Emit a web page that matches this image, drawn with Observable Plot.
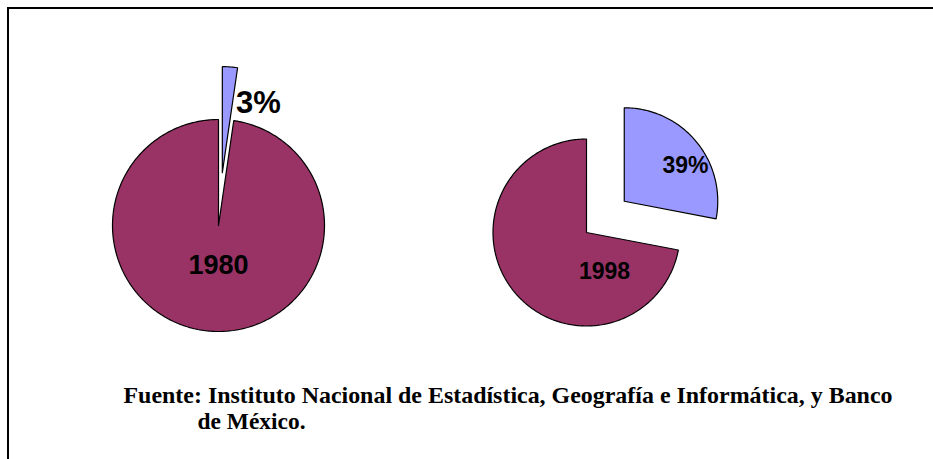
<!DOCTYPE html>
<html>
<head>
<meta charset="utf-8">
<script src="https://cdn.jsdelivr.net/npm/d3@7"></script>
<script src="https://cdn.jsdelivr.net/npm/@observablehq/plot@0.6"></script>
<style>
  html, body { margin: 0; padding: 0; background: #fff; }
  #wrap { position: relative; width: 933px; height: 459px; overflow: hidden; }
  #frame { position: absolute; left: 7px; top: 7px; width: 940px; height: 470px;
           border-top: 2px solid #000; border-left: 2px solid #000; box-sizing: border-box; }
  #chart { position: absolute; left: 0; top: 0; }
</style>
</head>
<body>
<div id="wrap"><div id="frame"></div><div id="chart"></div></div>
<script>
// ---- data ----
const years = ["1980", "1998"];
const shareLabels = ["3%", "39%"];          // labels printed on the exploded slices
const drawnShares = [2.3, 28];              // share (%) of the exploded slice as drawn
const captionLines = [
  "Fuente: Instituto Nacional de Estadística, Geografía e Informática, y Banco",
  "de México."
];

// ---- layout (positions / sizes), kept apart from the data ----
const layout = [
  {cx: 218, cy: 225, r: 106, explode: 53, yearPos: [218, 273, 27], sharePos: [258, 112, 31]},
  {cx: 586, cy: 232, r: 93.5, explode: 49, yearPos: [604, 278, 23], sharePos: [685, 172, 23]}
];
const colors = {big: "#993366", small: "#9999ff"};
const capSize = 23.5;

// build wedge polygons from the shares
const wedges = [];
const texts = [];
years.forEach((year, i) => {
  const L = layout[i];
  const a = drawnShares[i] / 100 * 2 * Math.PI;
  const slices = [
    {key: "small", a0: 0, a1: a, off: L.explode},
    {key: "big", a0: a, a1: 2 * Math.PI, off: 0}
  ];
  slices.forEach(s => {
    const mid = (s.a0 + s.a1) / 2;
    const ox = L.cx + s.off * Math.sin(mid);
    const oy = L.cy - s.off * Math.cos(mid);
    const id = year + "-" + s.key;
    wedges.push({id, key: s.key, x: ox, y: oy});
    const n = Math.max(4, Math.ceil((s.a1 - s.a0) / (Math.PI / 180)));
    for (let k = 0; k <= n; k++) {
      const t = s.a0 + (s.a1 - s.a0) * k / n;
      wedges.push({id, key: s.key, x: ox + L.r * Math.sin(t), y: oy - L.r * Math.cos(t)});
    }
    wedges.push({id, key: s.key, x: ox, y: oy});
  });
  texts.push({text: year, x: L.yearPos[0], y: L.yearPos[1] - 0.32 * L.yearPos[2], fs: L.yearPos[2]});
  texts.push({text: shareLabels[i], x: L.sharePos[0], y: L.sharePos[1] - 0.32 * L.sharePos[2], fs: L.sharePos[2]});
});

const captions = [
  {text: captionLines[0], x: 123, y: 402 - 0.32 * capSize},
  {text: captionLines[1], x: 197, y: 428 - 0.32 * capSize}
];

const textMarks = [...new Set(texts.map(d => d.fs))].map(fs =>
  Plot.text(texts.filter(d => d.fs === fs), {
    x: "x", y: "y", text: "text", fontSize: fs, fontWeight: "bold",
    fontFamily: "Liberation Sans, Arial, sans-serif", fill: "#000"
  })
);

const plot = Plot.plot({
  width: 933, height: 459,
  margin: 0,
  x: {domain: [0, 933], range: [0, 933], axis: null},
  y: {domain: [0, 459], range: [0, 459], axis: null},
  style: {background: "transparent", overflow: "visible"},
  marks: [
    Plot.line(wedges, {
      x: "x", y: "y", z: "id",
      fill: d => colors[d.key], stroke: "#000", strokeWidth: 1.2,
      strokeLinejoin: "miter", curve: "linear"
    }),
    ...textMarks,
    Plot.text(captions, {
      x: "x", y: "y", text: "text", textAnchor: "start", fontSize: capSize,
      fontWeight: "bold", fontFamily: "Liberation Serif, Times New Roman, serif", fill: "#000",
      className: "caption"
    })
  ]
});
document.getElementById("chart").appendChild(plot);

// fit the caption lines to the widths seen in the reference
const capTexts = plot.querySelectorAll("g.caption text, .caption text");
if (capTexts.length) {
  capTexts[0].setAttribute("textLength", 769);
  capTexts[0].setAttribute("lengthAdjust", "spacingAndGlyphs");
  if (capTexts[1]) {
    capTexts[1].setAttribute("textLength", 108);
    capTexts[1].setAttribute("lengthAdjust", "spacingAndGlyphs");
  }
}
</script>
</body>
</html>
